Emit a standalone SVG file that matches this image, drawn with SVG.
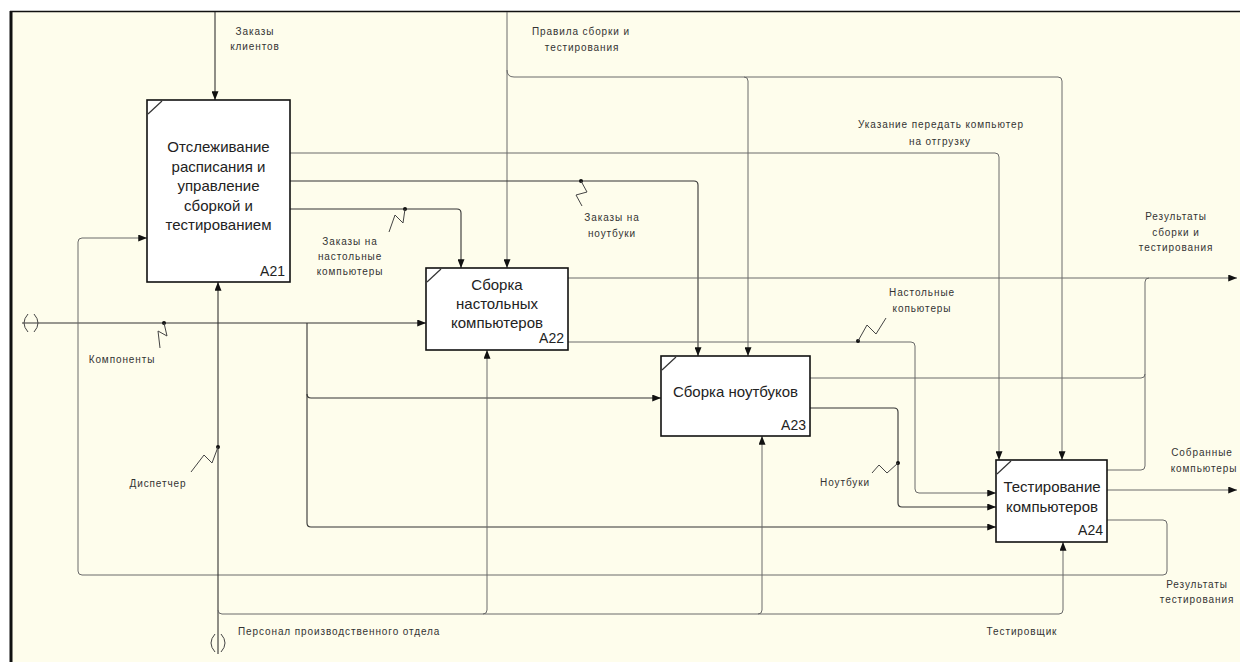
<svg xmlns="http://www.w3.org/2000/svg" width="1240" height="662" viewBox="0 0 1240 662">
<style>
.box{fill:#ffffff;stroke:#111;stroke-width:1.6}
.diag{stroke:#333;stroke-width:1.2}
.bt{font-family:"Liberation Sans",Arial,sans-serif;font-size:15px;fill:#222;text-anchor:middle}
.id{font-family:"Liberation Sans",Arial,sans-serif;font-size:14px;fill:#222;text-anchor:end}
.lb{font-family:"Liberation Sans",Arial,sans-serif;font-size:10px;fill:#333;letter-spacing:0.9px;text-anchor:middle}
.lbs{font-family:"Liberation Sans",Arial,sans-serif;font-size:10px;fill:#333;letter-spacing:0.9px;text-anchor:start}
.c{fill:none;stroke:#333;stroke-width:1.1}
.l{fill:none;stroke:#6a6a6a;stroke-width:1}
.sq{fill:none;stroke:#444;stroke-width:1}
.dot{fill:#111}
</style>
<defs>
<marker id="ah" viewBox="0 0 10 8" refX="10" refY="4" markerWidth="9" markerHeight="7" markerUnits="userSpaceOnUse" orient="auto">
<path d="M0,0 L10,4 L0,8 Z" fill="#111"/>
</marker>
</defs>
<rect x="0" y="0" width="1240" height="662" fill="#ffffff"/>
<rect x="11" y="11" width="1229" height="651" fill="#fefdec"/>
<line x1="10" y1="11.5" x2="1240" y2="11.5" stroke="#111" stroke-width="1.5"/>
<line x1="11" y1="11" x2="11" y2="662" stroke="#111" stroke-width="3"/>

<g id="connectors">
<path class="c" d="M215,12 V100" marker-end="url(#ah)"/>
<path class="l" d="M507,12 V268" marker-end="url(#ah)"/>
<path class="l" d="M507,70 Q507,77 514,77 H744 Q748,77 748,81 V356" marker-end="url(#ah)"/>
<path class="l" d="M744,77 H1058 Q1062,77 1062,81 V460" marker-end="url(#ah)"/>
<path class="l" d="M290,153 H995 Q999,153 999,157 V460" marker-end="url(#ah)"/>
<path class="c" d="M290,181 H694 Q698,181 698,185 V356" marker-end="url(#ah)"/>
<path class="c" d="M290,209 H457 Q461,209 461,213 V268" marker-end="url(#ah)"/>
<path class="c" d="M22,323 H426" marker-end="url(#ah)"/>
<path class="c" d="M307,323 V523 Q307,527 311,527 H996" marker-end="url(#ah)"/>
<path class="c" d="M307,394 Q307,398 311,398 H661" marker-end="url(#ah)"/>
<path class="l" d="M1107,520 H1163 Q1167,520 1167,524 V571 Q1167,575 1163,575 H82 Q78,575 78,571 V242 Q78,238 82,238 H147" marker-end="url(#ah)"/>
<path class="c" d="M218,654 V282" marker-end="url(#ah)"/>
<path class="l" d="M218,610 Q218,614 222,614 H1059 Q1063,614 1063,610 V542" marker-end="url(#ah)"/>
<path class="l" d="M483,614 Q487,614 487,610 V350" marker-end="url(#ah)"/>
<path class="l" d="M758,614 Q762,614 762,610 V436" marker-end="url(#ah)"/>
<path class="l" d="M568,278 H1237" marker-end="url(#ah)"/>
<path class="l" d="M1107,470 H1141 Q1145,470 1145,466 V282 Q1145,278 1149,278"/>
<path class="l" d="M810,378 H1141 Q1145,378 1145,374"/>
<path class="l" d="M568,342 H911 Q915,342 915,346 V489 Q915,493 919,493 H996" marker-end="url(#ah)"/>
<path class="c" d="M810,408 H894 Q898,408 898,412 V503 Q898,507 902,507 H996" marker-end="url(#ah)"/>
<path class="l" d="M1107,490 H1237" marker-end="url(#ah)"/>
<!-- squiggles -->
<circle class="dot" cx="164" cy="323" r="2"/>
<path class="sq" d="M164,323 L167,336 L158,331 L160,348"/>
<circle class="dot" cx="405" cy="209" r="2"/>
<path class="sq" d="M405,209 L403,223 L395,215 L389,232"/>
<circle class="dot" cx="581" cy="181" r="2"/>
<path class="sq" d="M581,181 L587,192 L576,195 L582,206"/>
<circle class="dot" cx="218" cy="447" r="2"/>
<path class="sq" d="M218,447 L212,463 L204,455 L191,472"/>
<circle class="dot" cx="858" cy="341" r="2"/>
<path class="sq" d="M858,341 L867,325 L876,334 L886,318"/>
<circle class="dot" cx="898" cy="463" r="2"/>
<path class="sq" d="M898,463 L887,473 L879,465 L872,473"/>
<!-- tunnels -->
<path class="sq" d="M28,314 Q20,323 28,332 M34,314 Q42,323 34,332"/>
<path class="sq" d="M215,634 Q207,643 215,652 M221,634 Q229,643 221,652"/>
</g>

<g id="A21">
<rect class="box" x="147" y="100" width="143" height="182"/>
<line class="diag" x1="148" y1="114" x2="162" y2="101"/>
<text class="bt" x="218.5" y="152">Отслеживание</text>
<text class="bt" x="218.5" y="171.5">расписания и</text>
<text class="bt" x="218.5" y="191">управление</text>
<text class="bt" x="218.5" y="210.5">сборкой и</text>
<text class="bt" x="218.5" y="230">тестированием</text>
<text class="id" x="285" y="276">A21</text>
</g>
<g id="A22">
<rect class="box" x="426" y="268" width="142" height="82"/>
<line class="diag" x1="427" y1="282" x2="441" y2="269"/>
<text class="bt" x="497" y="290">Сборка</text>
<text class="bt" x="497" y="309">настольных</text>
<text class="bt" x="497" y="328">компьютеров</text>
<text class="id" x="564" y="343">A22</text>
</g>
<g id="A23">
<rect class="box" x="661" y="356" width="149" height="80"/>
<line class="diag" x1="662" y1="370" x2="676" y2="357"/>
<text class="bt" x="735.5" y="397">Сборка ноутбуков</text>
<text class="id" x="806" y="430">A23</text>
</g>
<g id="A24">
<rect class="box" x="996" y="460" width="111" height="82"/>
<line class="diag" x1="997" y1="474" x2="1011" y2="461"/>
<text class="bt" x="1052" y="492">Тестирование</text>
<text class="bt" x="1052" y="512">компьютеров</text>
<text class="id" x="1103" y="535">A24</text>
</g>

<g id="labels">
<text class="lb" x="255" y="35">Заказы</text>
<text class="lb" x="255" y="50">клиентов</text>
<text class="lb" x="581" y="35">Правила сборки и</text>
<text class="lb" x="582" y="51">тестирования</text>
<text class="lb" x="941" y="128">Указание передать компьютер</text>
<text class="lb" x="940" y="145">на отгрузку</text>
<text class="lb" x="1176" y="220">Результаты</text>
<text class="lb" x="1176" y="236">сборки и</text>
<text class="lb" x="1176" y="251">тестирования</text>
<text class="lb" x="612" y="221">Заказы на</text>
<text class="lb" x="612" y="237">ноутбуки</text>
<text class="lb" x="350" y="245">Заказы на</text>
<text class="lb" x="350" y="260">настольные</text>
<text class="lb" x="350" y="275">компьютеры</text>
<text class="lb" x="922" y="296">Настольные</text>
<text class="lb" x="922" y="312">копьютеры</text>
<text class="lb" x="122" y="363">Компоненты</text>
<text class="lb" x="158" y="487">Диспетчер</text>
<text class="lb" x="845" y="486">Ноутбуки</text>
<text class="lb" x="1202" y="456">Собранные</text>
<text class="lb" x="1204" y="472">компьютеры</text>
<text class="lb" x="1197" y="588">Результаты</text>
<text class="lb" x="1197" y="603">тестирования</text>
<text class="lbs" x="238" y="635">Персонал производственного отдела</text>
<text class="lb" x="1022" y="635">Тестировщик</text>
</g>
</svg>
